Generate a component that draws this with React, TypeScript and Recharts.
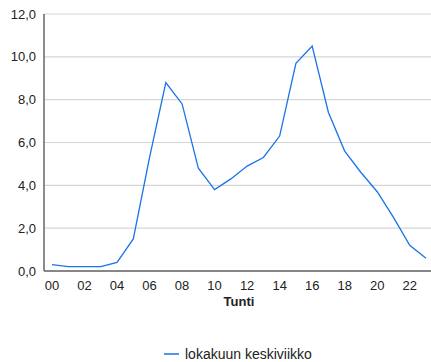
import React from "react";
import { LineChart, Line, XAxis, YAxis, CartesianGrid, Legend } from "recharts";

const hours = ["00","01","02","03","04","05","06","07","08","09","10","11","12","13","14","15","16","17","18","19","20","21","22","23"];
const values = [0.3,0.2,0.2,0.2,0.4,1.5,5.3,8.8,7.8,4.8,3.8,4.3,4.9,5.3,6.3,9.7,10.5,7.4,5.6,4.6,3.7,2.5,1.2,0.6];
const yTicks = [0, 2, 4, 6, 8, 10, 12];
const seriesName = "lokakuun keskiviikko";
const axisTitle = "Tunti";

const data = hours.map((h, i) => ({ hour: h, value: values[i] }));

const LINE_COLOR = "#1a73e8";
const FONT = "Arial, 'Liberation Sans', sans-serif";

const fmt = (v: number) => v.toFixed(1).replace(".", ",");

const LegendContent = () => (
  <div style={{ display: "flex", justifyContent: "flex-start", alignItems: "center", fontFamily: FONT, fontSize: 14, color: "#222" }}>
    <svg width={15} height={4} style={{ marginRight: 6 }}>
      <line x1={0} y1={2} x2={15} y2={2} stroke={LINE_COLOR} strokeWidth={1.5} />
    </svg>
    <span>{seriesName}</span>
  </div>
);

export default function App() {
  return (
    <div style={{ position: "fixed", left: 0, top: 0, width: 431, height: 362, overflow: "hidden", background: "#fff" }}>
      <LineChart width={440} height={362} data={data} margin={{ top: 14, right: 6, bottom: 38, left: 0 }}>
        <CartesianGrid vertical={false} stroke="#d6d6d6" strokeWidth={1.2} />
        <XAxis
          dataKey="hour"
          interval={1}
          tickLine={false}
          tickMargin={4}
          padding={{ left: 8, right: 8 }}
          axisLine={{ stroke: "#666", strokeWidth: 1.5 }}
          tick={{ fill: "#222", fontSize: 13, fontFamily: FONT }}
          height={35}
          label={{ value: axisTitle, position: "insideBottom", offset: 0, fill: "#222", fontSize: 13, fontWeight: "bold", fontFamily: FONT }}
        />
        <YAxis
          domain={[0, 12]}
          ticks={yTicks}
          tickFormatter={fmt}
          width={44}
          tickLine={false}
          axisLine={{ stroke: "#666", strokeWidth: 1.5 }}
          tick={{ fill: "#222", fontSize: 13, fontFamily: FONT }}
        />
        <Legend
          content={<LegendContent />}
          wrapperStyle={{ position: "absolute", left: 164, top: 346, width: 250, height: 18 }}
        />
        <Line
          type="linear"
          dataKey="value"
          name={seriesName}
          stroke={LINE_COLOR}
          strokeWidth={1.3}
          dot={false}
          isAnimationActive={false}
        />
      </LineChart>
    </div>
  );
}
